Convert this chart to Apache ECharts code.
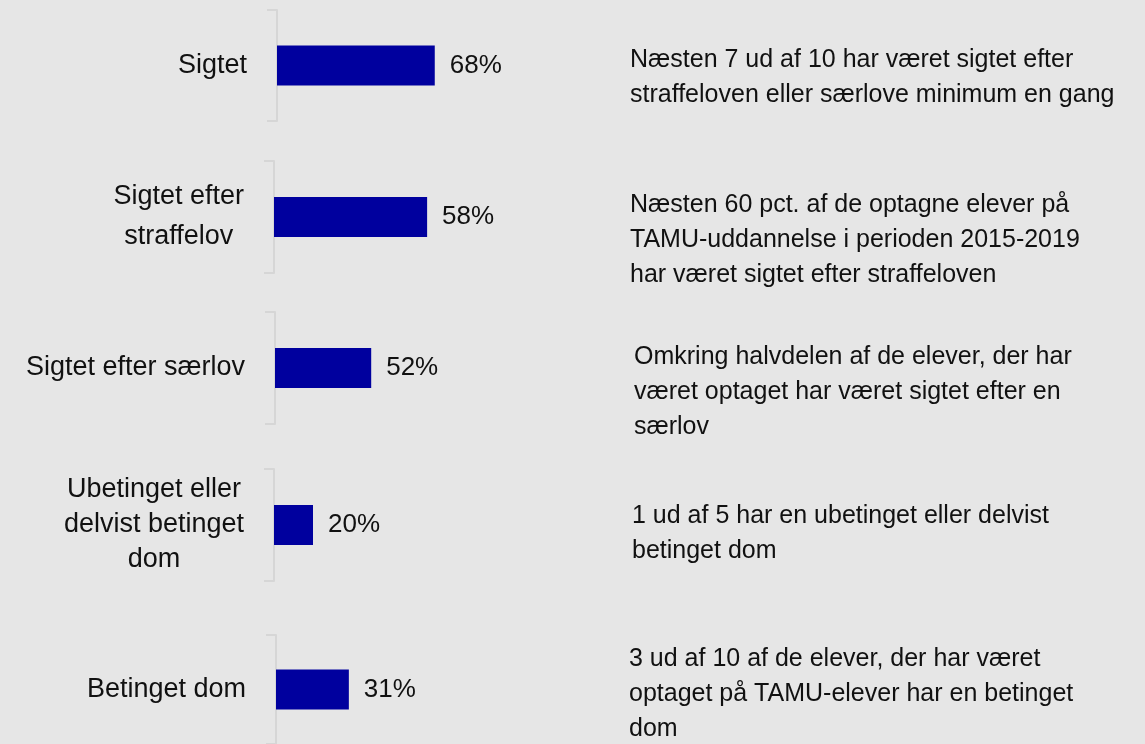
<!DOCTYPE html>
<html>
<head>
<meta charset="utf-8">
<script src="https://cdn.jsdelivr.net/npm/echarts@6/dist/echarts.min.js"></script>
<style>
html, body { margin: 0; padding: 0; background: #e6e6e6; }
#chart { width: 1145px; height: 744px; }
</style>
</head>
<body>
<div id="chart"></div>
<script>
// data
const categories = [
  'Sigtet',
  'Sigtet efter\nstraffelov',
  'Sigtet efter særlov',
  'Ubetinget eller\ndelvist betinget\ndom',
  'Betinget dom'
]
const values = [68, 58, 52, 20, 31]
const notes = [
  'Næsten 7 ud af 10 har været sigtet efter\nstraffeloven eller særlove minimum en gang',
  'Næsten 60 pct. af de optagne elever på\nTAMU-uddannelse i perioden 2015-2019\nhar været sigtet efter straffeloven',
  'Omkring halvdelen af de elever, der har\nværet optaget har været sigtet efter en\nsærlov',
  '1 ud af 5 har en ubetinget eller delvist\nbetinget dom',
  '3 ud af 10 af de elever, der har været\noptaget på TAMU-elever har en betinget\ndom'
]

// layout of the five small panels (each has its own scale)
const panels = [
  { left: 277, top: 10, height: 111, width: 232, labelLine: 35 },
  { left: 274, top: 161, height: 112, width: 264, labelLine: 40 },
  { left: 275, top: 312, height: 112, width: 185, labelLine: 35 },
  { left: 274, top: 469, height: 112, width: 195, labelLine: 35 },
  { left: 276, top: 635, height: 112, width: 235, labelLine: 35 }
]
const notePos = [
  { left: 630, top: 43 },
  { left: 630, top: 188 },
  { left: 634, top: 340 },
  { left: 632, top: 499 },
  { left: 629, top: 642 }
]

const FONT = "'Liberation Sans', Arial, sans-serif"
const TEXT = '#111111'
const AXIS = '#d6d6d6'
const BAR = '#00009e'

const chart = echarts.init(document.getElementById('chart'))

chart.setOption({
  backgroundColor: '#e6e6e6',
  animation: false,
  grid: panels.map(p => ({ left: p.left, top: p.top, width: p.width, height: p.height })),
  xAxis: panels.map((p, i) => ({
    type: 'value',
    gridIndex: i,
    min: 0,
    max: 100,
    show: false
  })),
  yAxis: panels.map((p, i) => ({
    type: 'category',
    gridIndex: i,
    data: [categories[i]],
    axisLine: { show: true, lineStyle: { color: AXIS, width: 2 } },
    axisTick: { show: true, length: 10, lineStyle: { color: AXIS, width: 2 } },
    splitLine: { show: false },
    axisLabel: {
      margin: 30,
      formatter: v => v.split('\n').map(l => '{c|' + l + '}').join('\n'),
      rich: {
        c: { align: 'center', fontSize: 27, lineHeight: p.labelLine, fontFamily: FONT, color: TEXT }
      }
    }
  })),
  series: values.map((v, i) => ({
    type: 'bar',
    xAxisIndex: i,
    yAxisIndex: i,
    data: [v],
    barWidth: 40,
    itemStyle: { color: BAR },
    label: {
      show: true,
      position: 'right',
      distance: 15,
      formatter: '{c}%',
      fontSize: 26,
      fontFamily: FONT,
      color: TEXT
    }
  })),
  graphic: notes.map((t, i) => ({
    type: 'text',
    left: notePos[i].left,
    top: notePos[i].top,
    style: {
      text: t,
      fontSize: 25,
      lineHeight: 35,
      fontFamily: FONT,
      fill: TEXT
    }
  }))
})
</script>
</body>
</html>
